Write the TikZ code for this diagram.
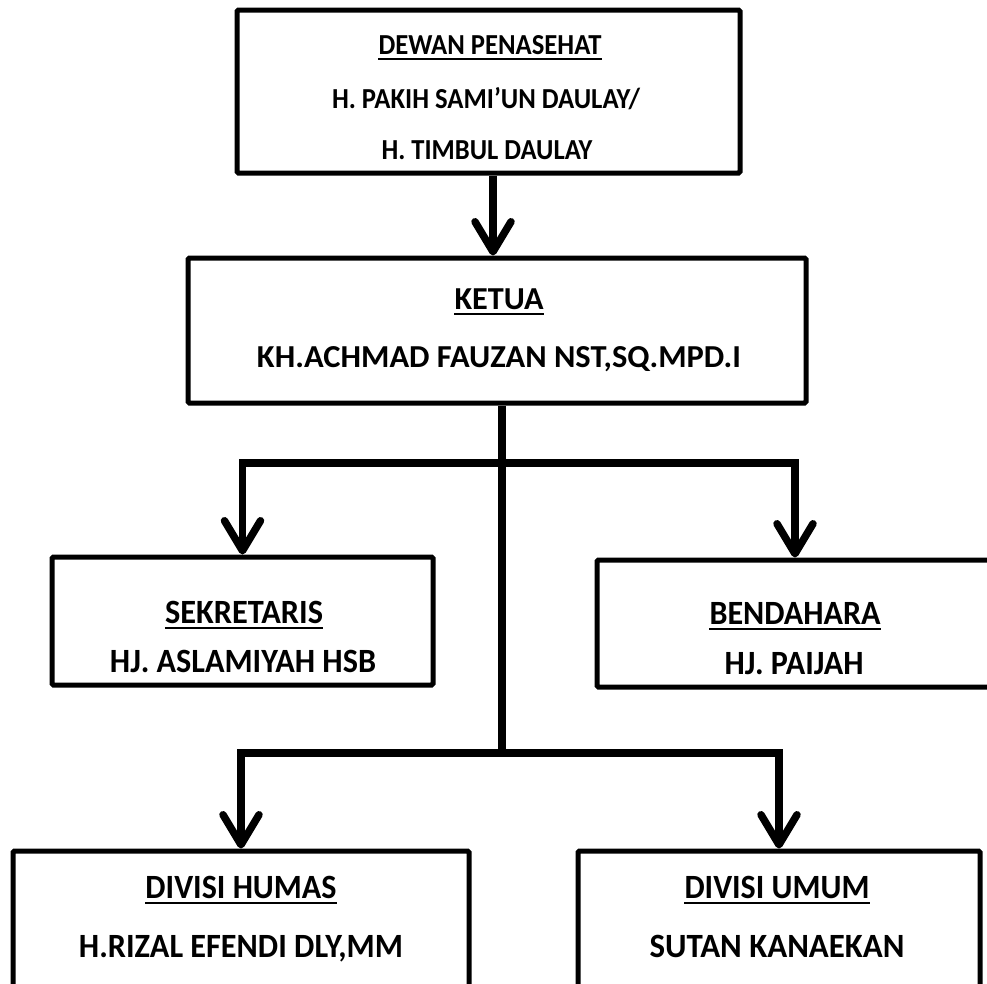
\documentclass[tikz,border=0pt]{standalone}
\usepackage{fontspec}
\setmainfont{Carlito}
\usetikzlibrary{arrows.meta}
\newcommand{\fw}[2]{\resizebox{#1pt}{\height}{#2}}
\begin{document}
\begin{tikzpicture}[x=1pt,y=-1pt,
  box/.style={draw=black, line width=5pt, rounded corners=1.5pt, fill=white, inner sep=0pt},
  lbl/.style={inner sep=0pt, anchor=base, font=\bfseries\fontsize{34}{36}\selectfont},
  lblmd/.style={lbl, font=\bfseries\fontsize{32}{34}\selectfont},
  lblsm/.style={lbl, font=\bfseries\fontsize{29}{31}\selectfont},
  conn/.style={line width=7.5pt, line join=miter},
  arr/.style={conn, -{Straight Barb[length=30pt,width=36pt,round]}},
  ul/.style={line width=2.5pt}]
\useasboundingbox (0,0) rectangle (987,983);
\clip (0,0) rectangle (987,983);
% boxes
\node[box, minimum width=503pt, minimum height=163pt] (dewan) at (488.5,91.5) {};
\node[box, minimum width=618pt, minimum height=145pt] (ketua) at (497,330.5) {};
\node[box, minimum width=381pt, minimum height=128pt] (sek) at (242.5,621) {};
\node[box, minimum width=396pt, minimum height=127pt] (bend) at (795,623.5) {};
\node[box, minimum width=456pt, minimum height=160pt] (humas) at (241,931) {};
\node[box, minimum width=402pt, minimum height=160pt] (umum) at (779,931) {};
% texts
\node[lblsm] (t1) at (490,54) {\fw{223}{DEWAN PENASEHAT}};
\node[lblsm] (t2) at (486,108) {\fw{308}{H. PAKIH SAMI’UN DAULAY/}};
\node[lblsm] (t3) at (487,159) {\fw{211}{H. TIMBUL DAULAY}};
\node[lblmd] (k1) at (499,309) {\fw{89}{KETUA}};
\node[lblmd] (k2) at (499,367) {\fw{484}{KH.ACHMAD FAUZAN NST,SQ.MPD.I}};
\node[lbl] (s1) at (244,623) {\fw{158}{SEKRETARIS}};
\node[lbl] (s2) at (243,672) {\fw{266}{HJ. ASLAMIYAH HSB}};
\node[lbl] (b1) at (795,624) {\fw{171}{BENDAHARA}};
\node[lbl] (b2) at (794,674) {\fw{139}{HJ. PAIJAH}};
\node[lbl] (h1) at (241,898) {\fw{191}{DIVISI HUMAS}};
\node[lbl] (h2) at (241,957) {\fw{324}{H.RIZAL EFENDI DLY,MM}};
\node[lbl] (u1) at (777,898) {\fw{185}{DIVISI UMUM}};
\node[lbl] (u2) at (777,957) {\fw{255}{SUTAN KANAEKAN}};
% underlines
\foreach \t in {t1,k1,s1,b1,h1,u1}
  \draw[ul] ([yshift=-5pt]\t.base west) -- ([yshift=-5pt]\t.base east);
% connectors
\coordinate (j1) at (502,463);
\coordinate (j2) at (502,753);
\draw[arr] ([xshift=4.5pt]dewan.south) -- ([xshift=4.5pt]dewan.south |- ketua.north);
\draw[conn] (ketua.south -| j1) -- (j2);
\draw[arr] (j1) -| (sek.north);
\draw[arr] (j1) -| (bend.north);
\draw[arr] (j2) -| (humas.north);
\draw[arr] (j2) -| (umum.north);
\end{tikzpicture}
\end{document}
